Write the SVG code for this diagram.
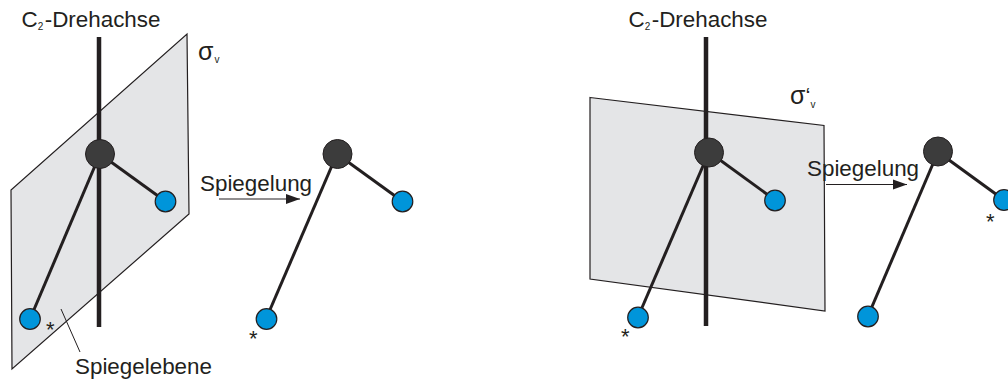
<svg xmlns="http://www.w3.org/2000/svg" width="1008" height="380" viewBox="0 0 1008 380">
<style>
.plane{fill:#e4e5e7;stroke:#231f20;stroke-width:1.2}
.axis{stroke:#231f20;stroke-width:4.5;fill:none}
.bond{stroke:#231f20;stroke-width:3;fill:none}
.dark{fill:#3c3c3c;stroke:#231f20;stroke-width:1}
.blue{fill:#0095da;stroke:#231f20;stroke-width:1.2}
.thin{stroke:#231f20;stroke-width:1;fill:none}
text{font-family:"Liberation Sans",Arial,sans-serif;fill:#231f20;font-size:22.4px}
.sub{font-size:10px}
.star{font-size:22px}
.sigma{font-size:25px}
</style>
<defs>
<marker id="arrow" markerUnits="userSpaceOnUse" markerWidth="14" markerHeight="12" refX="14" refY="6" orient="auto"><path d="M0 1L14 6L0 11Z" fill="#231f20"/></marker>
</defs>
<g id="plane-left"><polygon class="plane" points="187,34 189,214 12,369 11,190"/></g>
<g id="plane-right"><polygon class="plane" points="590,97.500 824,125.500 825,311 590,279"/></g>
<g id="connectors">
<line class="axis" x1="99" y1="37" x2="99" y2="327"/>
<line class="axis" x1="706" y1="37" x2="706" y2="326"/>
<line class="bond" x1="100" y1="154" x2="165" y2="201"/>
<line class="bond" x1="100" y1="154" x2="30" y2="319"/>
<line class="bond" x1="337" y1="154" x2="402" y2="201"/>
<line class="bond" x1="337" y1="154" x2="266" y2="319"/>
<line class="bond" x1="709" y1="152" x2="775" y2="200"/>
<line class="bond" x1="709" y1="152" x2="638" y2="317"/>
<line class="bond" x1="938" y1="152" x2="1004" y2="200"/>
<line class="bond" x1="938" y1="152" x2="868" y2="316"/>
<line class="thin" x1="219" y1="199" x2="300" y2="199" marker-end="url(#arrow)"/>
<line class="thin" x1="826" y1="184.500" x2="907" y2="184.500" marker-end="url(#arrow)"/>
<line class="thin" x1="61" y1="309" x2="80" y2="352"/>
</g>
<g id="atom-l1"><circle class="dark" cx="100" cy="154" r="14.500"/></g>
<g id="atom-l2"><circle class="blue" cx="165.500" cy="201.500" r="10.300"/></g>
<g id="atom-l3"><circle class="blue" cx="30" cy="319" r="10.300"/></g>
<g id="atom-m1"><circle class="dark" cx="337.500" cy="154" r="14.500"/></g>
<g id="atom-m2"><circle class="blue" cx="402.500" cy="201.500" r="10.300"/></g>
<g id="atom-m3"><circle class="blue" cx="266.500" cy="319" r="10.300"/></g>
<g id="atom-r1"><circle class="dark" cx="709" cy="152.500" r="14.500"/></g>
<g id="atom-r2"><circle class="blue" cx="775" cy="200.500" r="10.300"/></g>
<g id="atom-r3"><circle class="blue" cx="638" cy="317.500" r="10.300"/></g>
<g id="atom-s1"><circle class="dark" cx="938" cy="151.500" r="14.500"/></g>
<g id="atom-s2"><circle class="blue" cx="1004" cy="200" r="10.300"/></g>
<g id="atom-s3"><circle class="blue" cx="868" cy="316.500" r="10.300"/></g>
<g id="labels">
<text x="21.500" y="27">C<tspan class="sub" dy="3">2</tspan><tspan dx="1.500" dy="-3">-Drehachse</tspan></text>
<text x="628.500" y="27">C<tspan class="sub" dy="3">2</tspan><tspan dx="1.500" dy="-3">-Drehachse</tspan></text>
<text class="sigma" x="198" y="60">σ<tspan class="sub" dx="1" dy="3">v</tspan></text>
<text class="sigma" x="790" y="104">σ<tspan font-size="22.4" dy="-1">‘</tspan><tspan class="sub" dy="5">v</tspan></text>
<text x="200" y="191">Spiegelung</text>
<text x="807" y="176">Spiegelung</text>
<text x="75" y="374">Spiegelebene</text>
<text class="star" x="46" y="337">*</text>
<text class="star" x="249" y="346">*</text>
<text class="star" x="621" y="344">*</text>
<text class="star" x="986" y="229">*</text>
</g>
</svg>
